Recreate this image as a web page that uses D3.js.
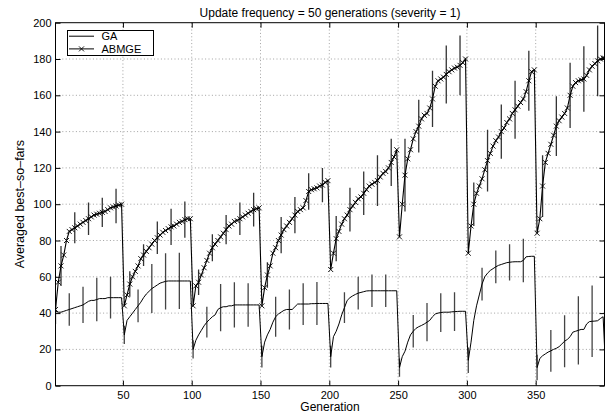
<!DOCTYPE html>
<html>
<head>
<meta charset="utf-8">
<script src="https://cdn.jsdelivr.net/npm/d3@7"></script>
<style>
  html, body { margin: 0; padding: 0; background: #fff; }
  svg { display: block; }
  text { font-family: "Liberation Sans", Arial, Helvetica, sans-serif; }
</style>
</head>
<body>
<svg id="chart" width="605" height="416"></svg>
<script>
// Sampled generations: every second generation, plus the final one
const generations = d3.range(1, 400, 2).concat([400]);

// Averaged best-so-far of the GA, one value per sampled generation
const gaValues = [
  41, 40.5, 40.5, 41, 41.5, 42, 42.5, 43, 43.5, 44, 44.5, 45.5, 46.5, 47, 47, 47.5, 48, 48, 48, 48.5, 48.5, 48.5, 48.5, 48.5, 48.5,
  28, 36, 38, 40, 42, 44, 46, 48.5, 50.5, 52, 53.5, 54.5, 55.5, 56.5, 57, 57.5, 57.7, 57.7, 57.7, 57.7, 57.7, 57.7, 57.7, 57.7, 57.7,
  20, 25, 28, 30.5, 33, 35, 36.5, 38, 39, 42, 43, 43.5, 43.5, 44, 44, 44.5, 44.5, 44.5, 44.5, 44.5, 44.5, 44.5, 44.5, 44.5, 44.5,
  16, 24, 28, 31, 35, 38, 39.5, 40.5, 41.5, 42, 42, 42, 43.5, 45, 45, 45, 45, 45, 45.2, 45.2, 45.3, 45.3, 45.3, 45.3, 45.3,
  16, 27, 30, 34, 39, 43, 47, 48.5, 49.5, 50.3, 51, 51.4, 51.8, 52.2, 52.3, 52.3, 52.3, 52.3, 52.3, 52.3, 52.3, 52.3, 52.3, 52.3, 52.3,
  10, 16, 19, 24, 28, 30, 31.6, 32.5, 33.2, 34, 35, 36, 38, 39.5, 40, 40.3, 40.5, 40.5, 40.5, 40.7, 40.8, 40.9, 41, 41, 41,
  14, 24, 36, 44, 50, 56, 60, 62, 63.5, 64.5, 65.5, 66.3, 66.8, 67.3, 67.8, 68, 68.2, 68.3, 68.3, 68.3, 69, 71, 71.2, 71.3, 71.3,
  10, 15, 16.5, 17.5, 18.5, 19.2, 20, 20.6, 21.5, 23, 24.5, 25.5, 27, 29.5, 30, 30.5, 31, 31, 34, 35.3, 35.5, 35.6, 35.8, 37, 38,
  22
];

// Averaged best-so-far of ABMGE, one value per sampled generation
const abmgeValues = [
  42, 57, 66, 72, 80, 85, 86, 87, 88, 89, 90, 91, 92, 93, 94, 94.5, 95, 95.5, 96, 97, 98, 98.5, 99, 99.5, 100,
  44, 50, 56, 60, 63, 66, 70, 72, 74, 76, 78, 80, 81.5, 83, 84.5, 85.5, 86.5, 87.5, 88, 89, 90, 90.5, 91.5, 92, 92,
  44, 55, 57, 61, 65, 69, 73, 76, 78, 80, 82, 84, 86, 88, 89, 90.5, 91, 92, 93, 94, 95, 96, 97, 97.5, 98,
  44, 54, 61, 66, 73, 76, 80, 83, 86, 88, 90, 92, 94, 96, 97, 98, 102, 107, 108, 108.5, 109, 110, 110.5, 112, 113,
  64, 73, 81, 85, 89, 92, 94, 97, 99, 101, 103, 104, 106, 108, 110, 111, 112, 113, 115, 117, 118, 120, 123, 126, 130,
  82, 100, 116, 125, 130, 136, 140, 143, 147, 149, 150, 153, 158, 165, 168, 169, 170, 171.5, 173, 174, 175, 175.5, 176.5, 178, 180,
  73, 88, 100, 106, 110, 114, 119, 124, 128, 132, 135, 137, 140, 142, 145, 147, 150, 152, 154, 156, 158, 162, 168, 173, 174,
  84, 92, 110, 123, 128, 133, 138, 143, 146, 148, 150, 153, 160, 165, 167, 168, 168.5, 169, 171, 174, 176, 177.5, 179, 180, 180.5,
  180.5
];

// Error bars: generation and half-length
const gaErrGenerations = d3.range(1, 400, 10);
const gaErrHalf = [
  7, 9, 10, 12, 11.5,
  5, 9, 13.5, 15.5, 15.5,
  5, 8.5, 13, 12.5, 12,
  6, 11, 11, 11.5, 11.8,
  6, 8.5, 9, 9, 9,
  5, 9, 10.5, 10.7, 10.7,
  7, 9, 9, 10, 12,
  7, 11.5, 14.3, 18.8, 19.7
];
const abmgeErrGenerations = d3.range(5, 400, 10);
const abmgeErrHalf = [
  11, 8.5, 9, 8, 9.5,
  7, 6, 9, 10, 10,
  7, 7.5, 8, 9, 9.3,
  7, 10, 10, 10, 9.4,
  12.5, 12, 12, 14, 13,
  20, 14.5, 15.5, 16, 16.5,
  12, 17, 15, 16, 16.5,
  17, 16.5, 18, 18, 19.5
];

const xTicks = [50, 100, 150, 200, 250, 300, 350];
const yTicks = [0, 20, 40, 60, 80, 100, 120, 140, 160, 180, 200];

const titleText = "Update frequency = 50 generations (severity = 1)";
const xLabel = "Generation";
const yLabel = "Averaged best–so–fars";
const seriesNames = ["GA", "ABMGE"];

// ---- layout ----
const plot = { left: 55.5, right: 604.5, top: 22.7, bottom: 385.7 };
const svg = d3.select("#chart");

const x = d3.scaleLinear().domain([1, 400]).range([plot.left, plot.right]);
const y = d3.scaleLinear().domain([0, 200]).range([plot.bottom, plot.top]);

const gaData = generations.map((g, i) => ({ g, v: gaValues[i] }));
const abmgeData = generations.map((g, i) => ({ g, v: abmgeValues[i] }));
const gaLookup = new Map(gaData.map(d => [d.g, d.v]));
const abLookup = new Map(abmgeData.map(d => [d.g, d.v]));

svg.append("defs").append("clipPath").attr("id", "plotclip")
  .append("rect")
  .attr("x", plot.left).attr("y", plot.top)
  .attr("width", plot.right - plot.left).attr("height", plot.bottom - plot.top);

// grid
const grid = svg.append("g").attr("stroke", "#8a8a8a").attr("stroke-width", 0.8)
  .attr("stroke-dasharray", "1,2.4");
grid.selectAll("line.gx").data(xTicks).join("line")
  .attr("x1", d => x(d)).attr("x2", d => x(d))
  .attr("y1", plot.top).attr("y2", plot.bottom);
grid.selectAll("line.gy").data(yTicks.slice(1, -1)).join("line")
  .attr("y1", d => y(d)).attr("y2", d => y(d))
  .attr("x1", plot.left).attr("x2", plot.right);

const body = svg.append("g").attr("clip-path", "url(#plotclip)");

// error bars
body.append("g").attr("stroke", "#444").attr("stroke-width", 1.3)
  .selectAll("line").data(gaErrGenerations.map((g, i) => ({ g, h: gaErrHalf[i] })))
  .join("line")
  .attr("x1", d => x(d.g)).attr("x2", d => x(d.g))
  .attr("y1", d => y(gaLookup.get(d.g) - d.h))
  .attr("y2", d => y(gaLookup.get(d.g) + d.h));

body.append("g").attr("stroke", "#333").attr("stroke-width", 1.3)
  .selectAll("line").data(abmgeErrGenerations.map((g, i) => ({ g, h: abmgeErrHalf[i] })))
  .join("line")
  .attr("x1", d => x(d.g)).attr("x2", d => x(d.g))
  .attr("y1", d => y(abLookup.get(d.g) - d.h))
  .attr("y2", d => y(abLookup.get(d.g) + d.h));

const line = d3.line().x(d => x(d.g)).y(d => y(d.v));

body.append("path").datum(gaData)
  .attr("fill", "none").attr("stroke", "#000").attr("stroke-width", 1)
  .attr("d", line);

body.append("path").datum(abmgeData)
  .attr("fill", "none").attr("stroke", "#000").attr("stroke-width", 1.1)
  .attr("d", line);

// x markers
const m = 2.5;
const crossPath = (cx, cy) =>
  `M${cx - m},${cy - m}L${cx + m},${cy + m}M${cx - m},${cy + m}L${cx + m},${cy - m}`;
body.append("path")
  .attr("fill", "none").attr("stroke", "#000").attr("stroke-width", 0.9)
  .attr("d", abmgeData.map(d => crossPath(x(d.g), y(d.v))).join(""));

// axes with inward ticks on all four sides
const tickFont = 11;
const labelFont = 12;
const styleAxis = g => {
  g.select(".domain").remove();
  g.selectAll(".tick line").attr("stroke", "#000").attr("stroke-width", 1);
  g.selectAll("text").attr("font-size", tickFont).attr("fill", "#000")
    .attr("font-family", "'Liberation Sans', Arial, Helvetica, sans-serif");
};
svg.append("g").attr("transform", `translate(0,${plot.bottom})`)
  .call(d3.axisBottom(x).tickValues(xTicks).tickSize(-5).tickPadding(6).tickFormat(d3.format("d")))
  .call(styleAxis);
svg.append("g").attr("transform", `translate(0,${plot.top})`)
  .call(d3.axisTop(x).tickValues(xTicks).tickSize(-5).tickFormat(""))
  .call(styleAxis);
svg.append("g").attr("transform", `translate(${plot.left},0)`)
  .call(d3.axisLeft(y).tickValues(yTicks).tickSize(-5).tickPadding(4).tickFormat(d3.format("d")))
  .call(styleAxis);
svg.append("g").attr("transform", `translate(${plot.right},0)`)
  .call(d3.axisRight(y).tickValues(yTicks).tickSize(-5).tickFormat(""))
  .call(styleAxis);

// frame
svg.append("rect")
  .attr("x", plot.left).attr("y", plot.top)
  .attr("width", plot.right - plot.left).attr("height", plot.bottom - plot.top)
  .attr("fill", "none").attr("stroke", "#000").attr("stroke-width", 1);

// titles
svg.append("text").attr("x", (plot.left + plot.right) / 2).attr("y", 16.5)
  .attr("text-anchor", "middle").attr("font-size", labelFont).text(titleText);
svg.append("text").attr("x", (plot.left + plot.right) / 2).attr("y", 411)
  .attr("text-anchor", "middle").attr("font-size", labelFont).text(xLabel);
svg.append("text")
  .attr("transform", `translate(23.5,${(plot.top + plot.bottom) / 2}) rotate(-90)`)
  .attr("text-anchor", "middle").attr("font-size", 12.5).text(yLabel);

// legend
const legendFont = 11;
const legend = svg.append("g");
legend.append("rect").attr("x", 67.5).attr("y", 30.5).attr("width", 86).attr("height", 25)
  .attr("fill", "#fff").attr("stroke", "#000").attr("stroke-width", 1);
const legendRows = [
  { name: seriesNames[0], yy: 36.2, marker: false },
  { name: seriesNames[1], yy: 48.9, marker: true }
];
legendRows.forEach(r => {
  legend.append("line").attr("x1", 69).attr("x2", 94).attr("y1", r.yy).attr("y2", r.yy)
    .attr("stroke", "#000").attr("stroke-width", 1);
  if (r.marker) {
    legend.append("path").attr("d", crossPath(81.5, r.yy))
      .attr("stroke", "#000").attr("stroke-width", 0.9).attr("fill", "none");
  }
  legend.append("text").attr("x", 101.5).attr("y", r.yy + 3.9)
    .attr("font-size", legendFont).text(r.name);
});
</script>
</body>
</html>
